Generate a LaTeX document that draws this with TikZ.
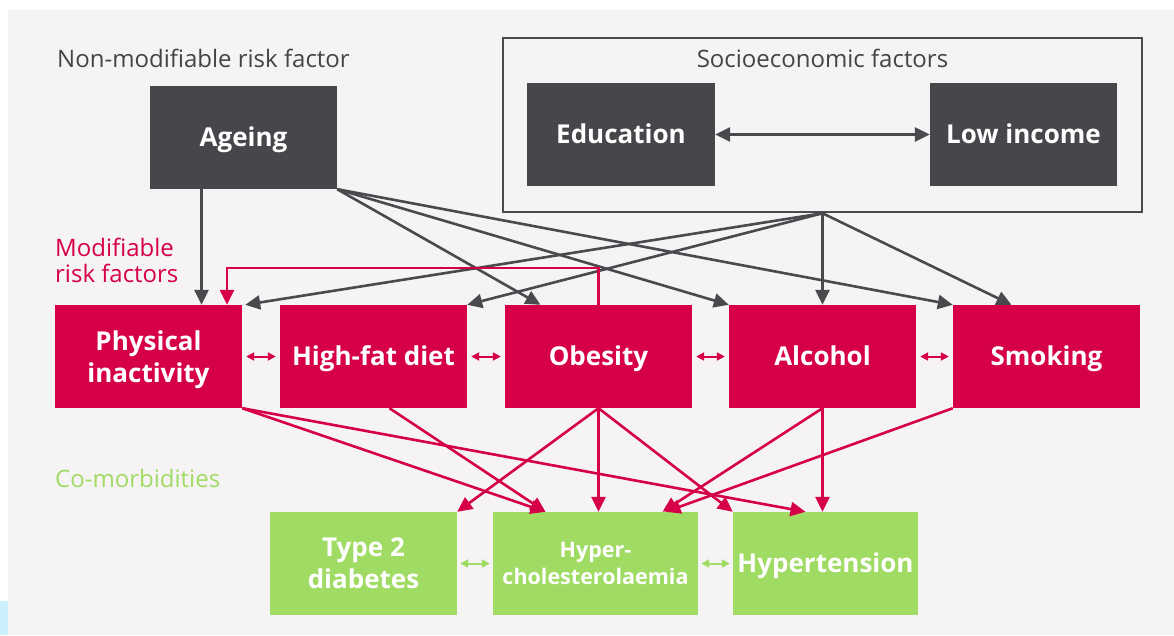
\documentclass[tikz,border=0pt]{standalone}
\usepackage{fontspec}
\setmainfont{Open Sans}
\usetikzlibrary{arrows.meta,calc}

\definecolor{bgcol}{RGB}{245,243,244}
\definecolor{darkbox}{RGB}{72,70,75}
\definecolor{linegray}{RGB}{74,73,78}
\definecolor{txtgray}{RGB}{68,67,70}
\definecolor{riskred}{RGB}{214,0,72}
\definecolor{comgreen}{RGB}{160,219,100}

\tikzset{
  box/.style={minimum width=187pt,minimum height=103pt,inner sep=0pt,align=center,text=white,font=\fontsize{26}{32}\selectfont\bfseries},
  oneline/.style={text height=19pt,text depth=1pt},
  greybox/.style={box,fill=darkbox},
  redbox/.style={box,fill=riskred},
  greenbox/.style={box,fill=comgreen},
  garrow/.style={draw=linegray,line width=2.6pt,-{Triangle[length=15pt,width=14pt]}},
  rarrow/.style={draw=riskred,line width=2.6pt,-{Triangle[length=15pt,width=14pt]}},
  rlink/.style={draw=riskred,line width=2pt,{Triangle[length=8pt,width=8pt]}-{Triangle[length=8pt,width=8pt]}},
  glink/.style={draw=comgreen,line width=2pt,{Triangle[length=8pt,width=8pt]}-{Triangle[length=8pt,width=8pt]}},
  heading/.style={anchor=west,inner sep=0pt,align=left,font=\fontsize{24}{26}\selectfont}
}

\begin{document}
\begin{tikzpicture}[x=1pt,y=-1pt]
    % page and background
    \useasboundingbox (0,0) rectangle (1174,635);
    \fill[white] (0,0) rectangle (1174,635);
    \fill[bgcol] (8,10) rectangle (1174,635);
    \fill[cyan!20] (0,601) rectangle (8,635);

    % headings
    \node[heading,text=txtgray] (nonmod) at (57,58) {Non-modifiable risk factor};
    \node[heading,text=riskred] (modif) at (55,260) {Modifiable\\risk factors};
    \node[heading,text=comgreen] (comorb) at (55,478) {Co-morbidities};

    % top row
    \node[greybox,oneline] (ageing) at (243.5,137.5) {Ageing};
    \node[draw=linegray,line width=2.5pt,minimum width=639pt,minimum height=174pt] (socio) at (822.5,125) {};
    \node[font=\fontsize{24}{26}\selectfont,text=txtgray] (sociotitle) at (822.5,58) {Socioeconomic factors};
    \node[greybox,oneline,minimum width=188pt] (edu) at (621,134.5) {Education};
    \node[greybox,oneline] (income) at (1023.5,134.5) {Low income};

    % modifiable risk factors
    \node[redbox,text depth=0pt] (phys) at (148.5,356.5) {Physical\\inactivity};
    \node[redbox,oneline] (diet) at (373.5,356.5) {High-fat diet};
    \node[redbox,oneline] (obes) at (598.5,356.5) {Obesity};
    \node[redbox,oneline] (alc) at (822.5,356.5) {Alcohol};
    \node[redbox,oneline] (smok) at (1046.5,356.5) {Smoking};

    % co-morbidities
    \node[greenbox] (t2d) at (363.5,563.5) {Type 2\\diabetes};
    \node[greenbox,minimum width=205pt,font=\fontsize{21.5}{27}\selectfont\bfseries] (hchol) at (595.5,563.5) {Hyper-\\cholesterolaemia};
    \node[greenbox,oneline,minimum width=185pt] (htn) at (825.5,563.5) {Hypertension};

    % grey links
    \draw[garrow,{Triangle[length=15pt,width=14pt]}-{Triangle[length=15pt,width=14pt]}] (edu) -- (income);
    \draw[garrow] ([xshift=-42pt]ageing.south) -- ([xshift=-42pt]ageing.south |- phys.north);
    \draw[garrow] (ageing.south east) -- ([xshift=-58pt]obes.north);
    \draw[garrow] (ageing.south east) -- (alc.north west);
    \draw[garrow] (ageing.south east) -- (smok.north west);
    \draw[garrow] (socio.south) -- ([xshift=3pt]phys.north east);
    \draw[garrow] (socio.south) -- (diet.north east);
    \draw[garrow] (socio.south) -- (alc.north);
    \draw[garrow] (socio.south) -- ([xshift=-35pt]smok.north);

    % red links
    \coordinate (loop) at (227,268);
    \draw[rarrow] (obes.north) |- (loop) -- (loop |- phys.north);
    \draw[rlink] ([xshift=4pt]phys.east) -- ([xshift=-4pt]diet.west);
    \draw[rlink] ([xshift=4pt]diet.east) -- ([xshift=-4pt]obes.west);
    \draw[rlink] ([xshift=4pt]obes.east) -- ([xshift=-4pt]alc.west);
    \draw[rlink] ([xshift=4pt]alc.east) -- ([xshift=-4pt]smok.west);

    \draw[rarrow] (phys.south east) -- ([xshift=-50pt]hchol.north);
    \draw[rarrow] (phys.south east) -- ([xshift=-20pt]htn.north);
    \draw[rarrow] ([xshift=16pt]diet.south) -- ([xshift=-50pt]hchol.north);
    \draw[rarrow] (obes.south) -- (t2d.north east);
    \draw[rarrow] (obes.south) -- (obes.south |- hchol.north);
    \draw[rarrow] (obes.south) -- (htn.north west);
    \draw[rarrow] (alc.south) -- ([xshift=67pt]hchol.north);
    \draw[rarrow] (alc.south) -- (alc.south |- htn.north);
    \draw[rarrow] (smok.south west) -- ([xshift=70pt]hchol.north);

    % green links
    \draw[glink] ([xshift=3pt]t2d.east) -- ([xshift=-3pt]hchol.west);
    \draw[glink] ([xshift=3pt]hchol.east) -- ([xshift=-3pt]htn.west);
\end{tikzpicture}
\end{document}
